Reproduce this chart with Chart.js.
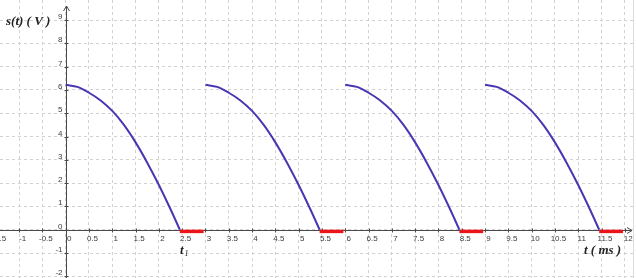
<!DOCTYPE html>
<html>
<head>
<meta charset="utf-8">
<script src="https://cdn.jsdelivr.net/npm/chart.js@4.4.0/dist/chart.umd.min.js"></script>
<style>
  html, body { margin: 0; padding: 0; background: #fff; }
</style>
</head>
<body>
<canvas id="grafico" width="636" height="278"></canvas>
<script>
"use strict";

// one arch: t offset (ms) and s (V)
const archT = [0, 0.25, 0.5, 0.75, 1.0, 1.25, 1.5, 1.75, 2.0, 2.25, 2.45];
const archS = [6.22, 6.13, 5.88, 5.55, 5.1, 4.5, 3.75, 2.88, 1.92, 0.88, 0];
// start of each period (ms)
const periodStarts = [0, 3, 6, 9];
// red flat part after each arch
const flatT = [2.45, 2.96];
const flatS = [-0.07, -0.07];

// ticks
const xTicks = [-1.5, -1, -0.5, 0, 0.5, 1, 1.5, 2, 2.5, 3, 3.5, 4, 4.5, 5, 5.5, 6,
                6.5, 7, 7.5, 8, 8.5, 9, 9.5, 10, 10.5, 11, 11.5, 12];
const xTickLabels = ['-1.5', '-1', '-0.5', '0', '0.5', '1', '1.5', '2', '2.5', '3', '3.5', '4',
                     '4.5', '5', '5.5', '6', '6.5', '7', '7.5', '8', '8.5', '9', '9.5', '10',
                     '10.5', '11', '11.5', '12'];
const yTicks = [-2, -1, 0, 1, 2, 3, 4, 5, 6, 7, 8, 9];
const yTickLabels = ['-2', '-1', '0', '1', '2', '3', '4', '5', '6', '7', '8', '9'];

const datasets = [];
periodStarts.forEach(function (p) {
    datasets.push({
        label: 's(t)',
        data: archT.map((t, i) => ({ x: p + t, y: archS[i] })),
        showLine: true,
        borderColor: '#4737b2',
        borderWidth: 2,
        pointRadius: 0,
        tension: 0.35
    });
    datasets.push({
        label: 'flat',
        data: flatT.map((t, i) => ({ x: p + t, y: flatS[i] })),
        showLine: true,
        borderColor: '#ea1419',
        borderWidth: 3.5,
        pointRadius: 0
    });
});

// axes, arrows, tick marks, labels
const ejes = {
    id: 'ejes',
    beforeDatasetsDraw(chart) {
        const { ctx, chartArea } = chart;
        const x = chart.scales.x, y = chart.scales.y;
        const x0 = Math.round(x.getPixelForValue(0)) + 0.5;
        const y0 = Math.round(y.getPixelForValue(0)) + 0.5;
        ctx.save();
        // faint frame on the right
        ctx.strokeStyle = '#dcdcdc';
        ctx.beginPath();
        ctx.moveTo(633.5, 0); ctx.lineTo(633.5, chartArea.bottom);
        ctx.stroke();

        ctx.strokeStyle = '#4a4a4a';
        ctx.lineWidth = 1;
        ctx.beginPath();
        ctx.moveTo(chartArea.left, y0); ctx.lineTo(632, y0);
        ctx.moveTo(x0, chartArea.bottom); ctx.lineTo(x0, 6);
        // arrow heads
        ctx.moveTo(627, y0 - 3); ctx.lineTo(632, y0); ctx.lineTo(627, y0 + 3);
        ctx.moveTo(x0 - 3, 11); ctx.lineTo(x0, 6); ctx.lineTo(x0 + 3, 11);
        // tick marks
        xTicks.forEach(function (v) {
            if (v === 0) return;
            const px = Math.round(x.getPixelForValue(v)) + 0.5;
            ctx.moveTo(px, y0 - 2); ctx.lineTo(px, y0 + 2);
        });
        yTicks.forEach(function (v) {
            if (v === 0) return;
            const py = Math.round(y.getPixelForValue(v)) + 0.5;
            ctx.moveTo(x0 - 2, py); ctx.lineTo(x0 + 2, py);
        });
        ctx.stroke();

        // tick labels
        ctx.fillStyle = '#3a3a3a';
        ctx.font = '8px "Liberation Sans"';
        ctx.textAlign = 'center';
        ctx.textBaseline = 'middle';
        xTicks.forEach(function (v, i) {
            ctx.fillText(xTickLabels[i], x.getPixelForValue(v) + 3.5, y0 + 8.5);
        });
        ctx.textAlign = 'right';
        ctx.textBaseline = 'alphabetic';
        yTicks.forEach(function (v, i) {
            ctx.fillText(yTickLabels[i], x0 - 4, y.getPixelForValue(v) - 1);
        });

        // axis titles
        ctx.fillStyle = '#222';
        ctx.textAlign = 'left';
        ctx.font = 'bold italic 13px "Liberation Serif"';
        ctx.fillText('s(t) ( V )', 6, 25);
        ctx.fillText('t ( ms )', 584, 254);
        // t1 mark
        ctx.fillText('t', 180, 254);
        ctx.font = 'italic 8px "Liberation Serif"';
        ctx.fillText('1', 184.5, 256);
        ctx.restore();
    }
};

new Chart(document.getElementById('grafico').getContext('2d'), {
    type: 'scatter',
    data: { datasets: datasets },
    options: {
        responsive: false,
        animation: false,
        devicePixelRatio: 1,
        layout: { padding: 0 },
        plugins: {
            legend: { display: false },
            tooltip: { enabled: false }
        },
        scales: {
            x: {
                type: 'linear',
                min: -1.41,
                max: 12.24,
                afterBuildTicks: function (scale) {
                    scale.ticks = xTicks.map(v => ({ value: v }));
                },
                ticks: { display: false },
                grid: { color: '#d2d2d2', lineWidth: 1, drawTicks: false },
                border: { display: false, dash: [3, 3] }
            },
            y: {
                type: 'linear',
                min: -2.07,
                max: 9.86,
                afterBuildTicks: function (scale) {
                    scale.ticks = yTicks.map(v => ({ value: v }));
                },
                ticks: { display: false },
                grid: { color: '#d2d2d2', lineWidth: 1, drawTicks: false },
                border: { display: false, dash: [3, 3] }
            }
        }
    },
    plugins: [ejes]
});
</script>
</body>
</html>
